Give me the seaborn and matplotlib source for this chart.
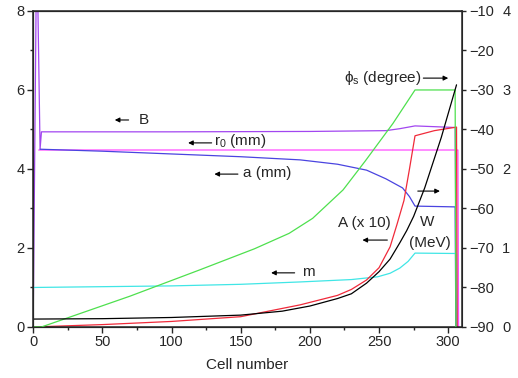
import matplotlib
matplotlib.use('Agg')
import matplotlib.pyplot as plt
import pandas as pd
import seaborn as sns
from matplotlib.ticker import MultipleLocator

# values (left axis units unless noted)
b_cell = [0, 2.6, 5, 6, 100, 200, 255, 265, 276, 305, 306]
b_val = [0, 10, 4.5, 4.94, 4.94, 4.95, 4.97, 5.02, 5.09, 5.05, 0]

r0_cell = [4, 150, 307, 307.5]
r0_val = [4.48, 4.48, 4.48, 0]

a_cell = [5, 50, 100, 150, 193, 220, 241, 255, 267, 272, 276, 305, 305.5]
a_val = [4.5, 4.45, 4.38, 4.31, 4.23, 4.12, 3.97, 3.75, 3.52, 3.3, 3.06, 3.04, 0]

m_cell = [0, 100, 150, 193, 230, 249, 258, 265, 271, 276, 306, 306.5]
m_val = [1.0, 1.04, 1.08, 1.14, 1.2, 1.27, 1.36, 1.49, 1.66, 1.87, 1.86, 0]

A_cell = [0, 50, 100, 150, 193, 220, 230, 241, 250, 258, 263, 268, 272, 276, 290, 306, 306.5]
A_val = [0, 0.06, 0.14, 0.26, 0.56, 0.8, 0.95, 1.19, 1.5, 2.03, 2.6, 3.2, 4.0, 4.84, 4.97, 5.06, 0]

# synchronous phase, degree (right axis)
phi_cell = [0, 6, 70, 120, 160, 185, 202, 224, 240, 260, 276, 305, 305.5]
phi_deg = [-90, -90, -82.2, -75.6, -70.2, -66.3, -62.5, -55.3, -48, -38.5, -30, -30, -90]

# energy, MeV (outer right axis)
w_cell = [0, 50, 100, 150, 180, 200, 220, 230, 241, 250, 258, 265, 270, 275, 283, 295, 306]
w_mev = [0.1, 0.105, 0.12, 0.15, 0.2, 0.265, 0.36, 0.42, 0.555, 0.7, 0.86, 1.065, 1.22, 1.4, 1.76, 2.4, 3.065]

sns.set_style('ticks')
plt.rcParams['font.family'] = ['Liberation Sans', 'DejaVu Sans']
plt.rcParams['mathtext.fontset'] = 'custom'
plt.rcParams['mathtext.rm'] = 'Liberation Sans'
plt.rcParams['mathtext.it'] = 'Liberation Sans'

fig = plt.figure(figsize=(5.18, 3.78), dpi=100)
ax = fig.add_axes([0.064, 0.135, 0.828, 0.836])

lw = 0.9
sns.lineplot(x=b_cell, y=b_val, ax=ax, color='#a246f0', lw=lw, sort=False)
sns.lineplot(x=r0_cell, y=r0_val, ax=ax, color='#ff4cff', lw=lw, sort=False)
sns.lineplot(x=a_cell, y=a_val, ax=ax, color='#4a44e0', lw=lw, sort=False)
sns.lineplot(x=m_cell, y=m_val, ax=ax, color='#40e6e6', lw=lw, sort=False)
sns.lineplot(x=A_cell, y=A_val, ax=ax, color='#f02a3a', lw=lw, sort=False)

ax.set_xlim(0, 310)
ax.set_ylim(0, 8)
ax.xaxis.set_major_locator(MultipleLocator(50))
ax.xaxis.set_minor_locator(MultipleLocator(25))
ax.yaxis.set_major_locator(MultipleLocator(2))
ax.yaxis.set_minor_locator(MultipleLocator(1))
ax.tick_params(which='major', length=4, width=1, labelsize=10.5, direction='out', pad=2)
ax.tick_params(which='minor', length=2.5, width=1, direction='out')
ax.set_xlabel('Cell number', fontsize=11, labelpad=6)
ax.set_ylabel('')
for s in ax.spines.values():
    s.set_linewidth(1.1)

ax2 = ax.twinx()
sns.lineplot(x=phi_cell, y=phi_deg, ax=ax2, color='#4ee04e', lw=lw, sort=False)
ax2.set_ylim(-90, -10)
ax2.yaxis.set_major_locator(MultipleLocator(10))
ax2.tick_params(which='major', length=3, width=1, labelsize=10.5, direction='out', pad=2)
ax2.set_ylabel('')

ax3 = ax.twinx()
sns.lineplot(x=w_cell, y=w_mev, ax=ax3, color='black', lw=lw, sort=False)
ax3.set_ylim(0, 4)
ax3.yaxis.set_major_locator(MultipleLocator(1))
ax3.spines['right'].set_position(('outward', 27))
ax3.spines['right'].set_visible(False)
ax3.tick_params(length=0, labelsize=10.5, pad=2)
ax3.set_ylabel('')
ax3.set_xlim(0, 310)

arr = dict(arrowstyle='-|>', color='black', lw=0.8, mutation_scale=7, shrinkA=0, shrinkB=0)


def note(text, xy_from, xy_to, tx, ty, ha='left'):
    ax.annotate('', xy=xy_to, xytext=xy_from, arrowprops=arr)
    if text:
        ax.text(tx, ty, text, fontsize=11, ha=ha, va='center')


note('B', (69, 5.24), (59, 5.24), 76, 5.24)
note('r$_0$ (mm)', (129, 4.66), (112, 4.66), 131, 4.72)
note('a (mm)', (148, 3.87), (131, 3.87), 152, 3.91)
note('m', (189, 1.37), (172, 1.37), 194, 1.39)
note('A (x 10)', (256, 2.2), (238, 2.2), 220, 2.63)
note('', (278, 3.44), (294, 3.44), 0, 0)
ax.text(285, 2.65, 'W', fontsize=11, ha='center', va='center')
ax.text(287, 2.13, '(MeV)', fontsize=11, ha='center', va='center')
note(r'$\phi_s$ (degree)', (282, 6.3), (300, 6.3), 225, 6.3)

fig.savefig('out.png', dpi=100)
